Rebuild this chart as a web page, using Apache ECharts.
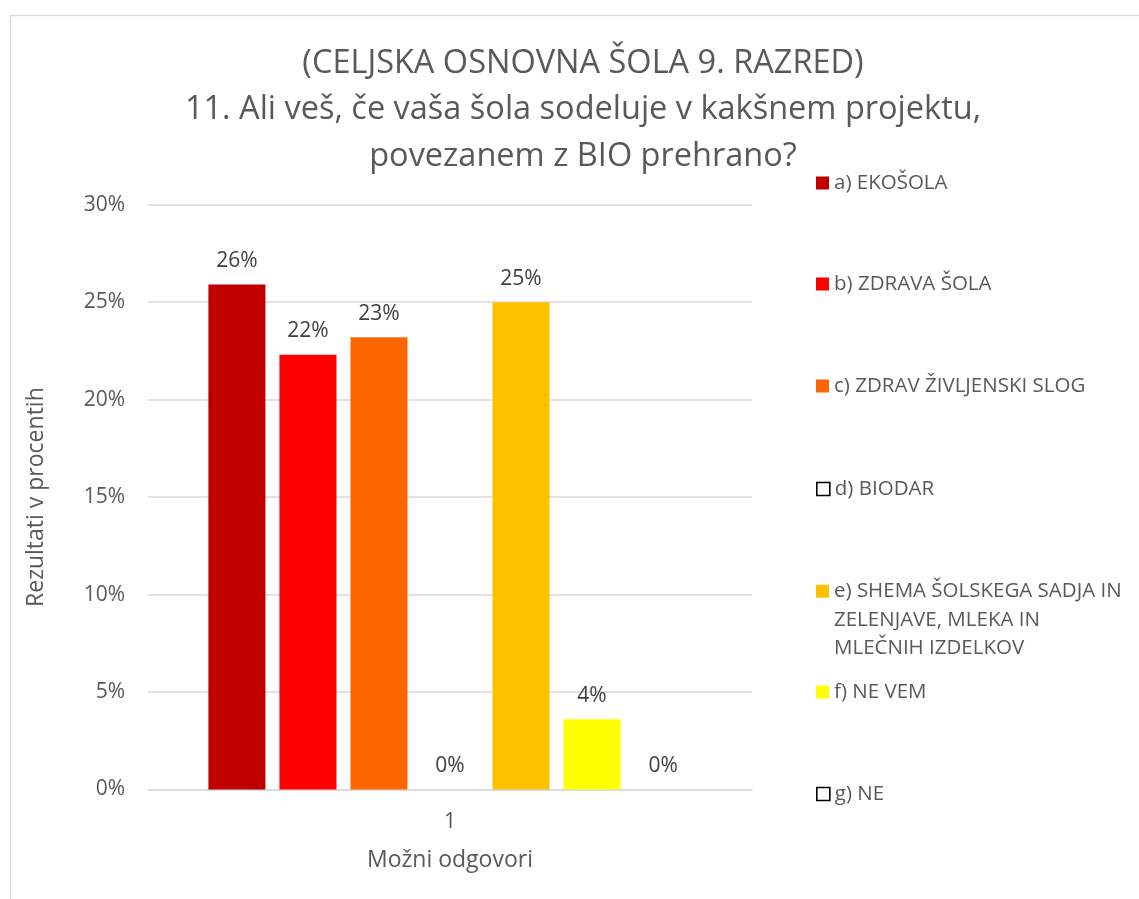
<!DOCTYPE html>
<html lang="sl">
<head>
    <meta charset="utf-8" />
    <title>BIO prehrana</title>
    <script src="https://cdn.jsdelivr.net/npm/echarts@6/dist/echarts.min.js"></script>
    <style>
        html, body { margin: 0; padding: 0; background: #fff; }
    </style>
</head>
<body>
    <div id="main" style="width: 1139px;height:899px;"></div>
    <script>
        // podatki
        var categories = ['1'];
        var seriesNames = ['a) EKOŠOLA', 'b) ZDRAVA ŠOLA', 'c) ZDRAV ŽIVLJENSKI SLOG', 'd) BIODAR',
            'e) SHEMA ŠOLSKEGA SADJA IN', 'f) NE VEM', 'g) NE'];
        var seriesValues = [25.9, 22.3, 23.2, 0, 25.0, 3.6, 0];
        var seriesColors = ['#C00000', '#FF0000', '#FF6600', 'transparent', '#FFC000', '#FFFF00', 'transparent'];
        var yTicks = [0, 5, 10, 15, 20, 25, 30];
        var legendCenters = [183, 284, 386, 489, 591, 692, 794];

        var font = 'Open Sans';
        // e) ima tri vrstice, prve dve prazni vrstici poravnata ikono s prvo vrstico
        var legendLabel = {
            'e) SHEMA ŠOLSKEGA SADJA IN': ' \n \ne) SHEMA ŠOLSKEGA SADJA IN\nZELENJAVE, MLEKA IN\nMLEČNIH IZDELKOV'
        };

        var series = seriesNames.map(function (name, i) {
            return {
                name: name,
                type: 'bar',
                data: [seriesValues[i]],
                barGap: '24.5%',
                barCategoryGap: '20%',
                itemStyle: { color: seriesColors[i] },
                label: {
                    show: true,
                    position: 'top',
                    distance: 13,
                    color: '#404040',
                    fontFamily: font,
                    fontSize: 21,
                    formatter: function (p) { return Math.round(p.value) + '%'; }
                }
            };
        });

        var legends = seriesNames.map(function (name, i) {
            var empty = seriesColors[i] === 'transparent';
            var multi = !!legendLabel[name];
            return {
                orient: 'vertical',
                left: 816,
                top: multi ? legendCenters[i] - 71 : legendCenters[i] - 13,
                padding: 0,
                itemWidth: 13,
                itemHeight: 13,
                icon: 'rect',
                selectedMode: false,
                formatter: function (n) { return legendLabel[n] || n; },
                textStyle: {
                    color: '#595959',
                    fontFamily: font,
                    fontSize: 20.5,
                    lineHeight: multi ? 28.5 : 26
                },
                data: [{
                    name: name,
                    itemStyle: empty ? { color: '#fff', borderColor: '#000', borderWidth: 1.6 } : undefined
                }]
            };
        });

        var myChart = echarts.init(document.getElementById('main'));
        var option = {
            animation: false,
            title: {
                text: '(CELJSKA OSNOVNA ŠOLA 9. RAZRED)\n11. Ali veš, če vaša šola sodeluje v kakšnem projektu,\npovezanem z BIO prehrano?',
                left: 578,
                top: 35,
                textAlign: 'center',
                textStyle: {
                    color: '#595959',
                    fontFamily: font,
                    fontSize: 32.5,
                    fontWeight: 'normal',
                    lineHeight: 46.5
                }
            },
            legend: legends,
            grid: {
                left: 148,
                right: 387,
                top: 204.7,
                bottom: 109.5
            },
            xAxis: {
                type: 'category',
                data: categories,
                name: 'Možni odgovori',
                nameLocation: 'middle',
                nameGap: 59,
                nameTextStyle: { color: '#595959', fontFamily: font, fontSize: 23 },
                axisTick: { show: false },
                axisLine: { lineStyle: { color: '#d9d9d9', width: 1.5 } },
                axisLabel: { color: '#595959', fontFamily: font, fontSize: 21, margin: 22 }
            },
            yAxis: {
                type: 'value',
                min: yTicks[0],
                max: yTicks[yTicks.length - 1],
                interval: 5,
                name: 'Rezultati v procentih',
                nameLocation: 'middle',
                nameGap: 100,
                nameTextStyle: { color: '#595959', fontFamily: font, fontSize: 23 },
                axisLine: { show: false },
                axisTick: { show: false },
                splitLine: { lineStyle: { color: '#d9d9d9', width: 1.5 } },
                axisLabel: {
                    color: '#595959',
                    fontFamily: font,
                    fontSize: 21,
                    margin: 23,
                    formatter: '{value}%'
                }
            },
            graphic: [{
                type: 'rect',
                shape: { x: 10.5, y: 15.5, width: 1300, height: 1000 },
                style: { fill: 'none', stroke: '#d9d9d9', lineWidth: 1.5 },
                silent: true
            }],
            series: series
        };
        option && myChart.setOption(option);
    </script>
</body>
</html>
